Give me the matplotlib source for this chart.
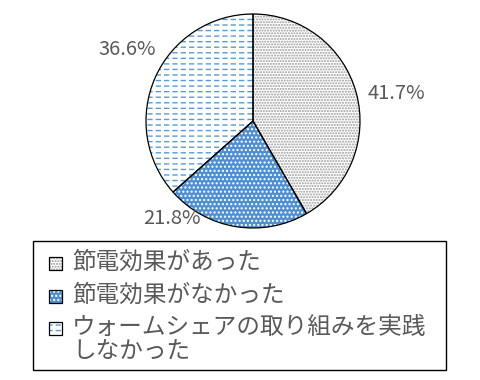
import matplotlib
matplotlib.use("Agg")
import matplotlib.pyplot as plt
from matplotlib.patches import Rectangle

plt.rcParams['font.family'] = ['Noto Sans CJK JP', 'DejaVu Sans']
plt.rcParams['hatch.linewidth'] = 1.0

# ================= データ =================
categories = ["節電効果があった", "節電効果がなかった", "ウォームシェアの取り組みを実践\nしなかった"]
values = [41.7, 21.8, 36.6]
pct_labels = ["41.7%", "21.8%", "36.6%"]

face_colors = ["white", "#4F8FD0", "white"]
hatch_colors = ["#9a9a9a", "white", "#5B9BD5"]
hatches = ["......", "....", "---"]
TEXT_COLOR = "#595959"

W, H = 480, 380
fig = plt.figure(figsize=(W / 100, H / 100), dpi=100)
ax = fig.add_axes([146 / W, 1 - 228 / H, 214 / W, 214 / H])

# 塗りとハッチ
wedges, _ = ax.pie(values, startangle=90, counterclock=False, radius=1,
                   wedgeprops=dict(linewidth=0))
for w, fc, hc, h in zip(wedges, face_colors, hatch_colors, hatches):
    w.set_facecolor(fc)
    w.set_edgecolor(hc)
    w.set_hatch(h)

# 横線を破線風にするため白の縦線を重ねる
plt.rcParams['hatch.linewidth'] = 2.2
gap_wedges, _ = ax.pie(values, startangle=90, counterclock=False, radius=1,
                       wedgeprops=dict(linewidth=0, facecolor="none"))
for i, w in enumerate(gap_wedges):
    if i == 2:
        w.set_edgecolor("white")
        w.set_hatch("||")
    else:
        w.set_visible(False)
plt.rcParams['hatch.linewidth'] = 1.0

# 輪郭線
ax.pie(values, startangle=90, counterclock=False, radius=1,
       wedgeprops=dict(facecolor="none", edgecolor="black", linewidth=0.9))

ax.set_xlim(-1, 1)
ax.set_ylim(-1, 1)
ax.set_aspect("equal")

# パーセント表示
label_pos = [(1.34, 0.26), (-0.76, -0.91), (-1.18, 0.67)]
for (x, y), t in zip(label_pos, pct_labels):
    ax.text(x, y, t, ha="center", va="center", fontsize=14.5, color=TEXT_COLOR)

# ================= 凡例（手描き） =================
fig.patches.append(Rectangle((33 / W, 1 - 370 / H), 413 / W, 129 / H,
                             transform=fig.transFigure, facecolor="white",
                             edgecolor="black", linewidth=1.0, zorder=0))

row_y = [263, 296, 328]
for i, (y, label, fc, hc, h) in enumerate(zip(row_y, categories, face_colors,
                                              hatch_colors, hatches)):
    box_xy = (49 / W, 1 - (y + 6.5) / H)
    fig.patches.append(Rectangle(box_xy, 13 / W, 13 / H,
                                 transform=fig.transFigure, facecolor=fc,
                                 edgecolor=hc, hatch=h, linewidth=0))
    if i == 2:
        plt.rcParams['hatch.linewidth'] = 2.2
        fig.patches.append(Rectangle(box_xy, 13 / W, 13 / H,
                                     transform=fig.transFigure, facecolor="none",
                                     edgecolor="white", hatch="||", linewidth=0))
        plt.rcParams['hatch.linewidth'] = 1.0
    fig.patches.append(Rectangle(box_xy, 13 / W, 13 / H,
                                 transform=fig.transFigure, facecolor="none",
                                 edgecolor="black", linewidth=0.9))
    fig.text(72 / W, 1 - (y - 12) / H, label, ha="left", va="top",
             fontsize=17, color=TEXT_COLOR, linespacing=1.02)

fig.savefig("out.png", dpi=100)
